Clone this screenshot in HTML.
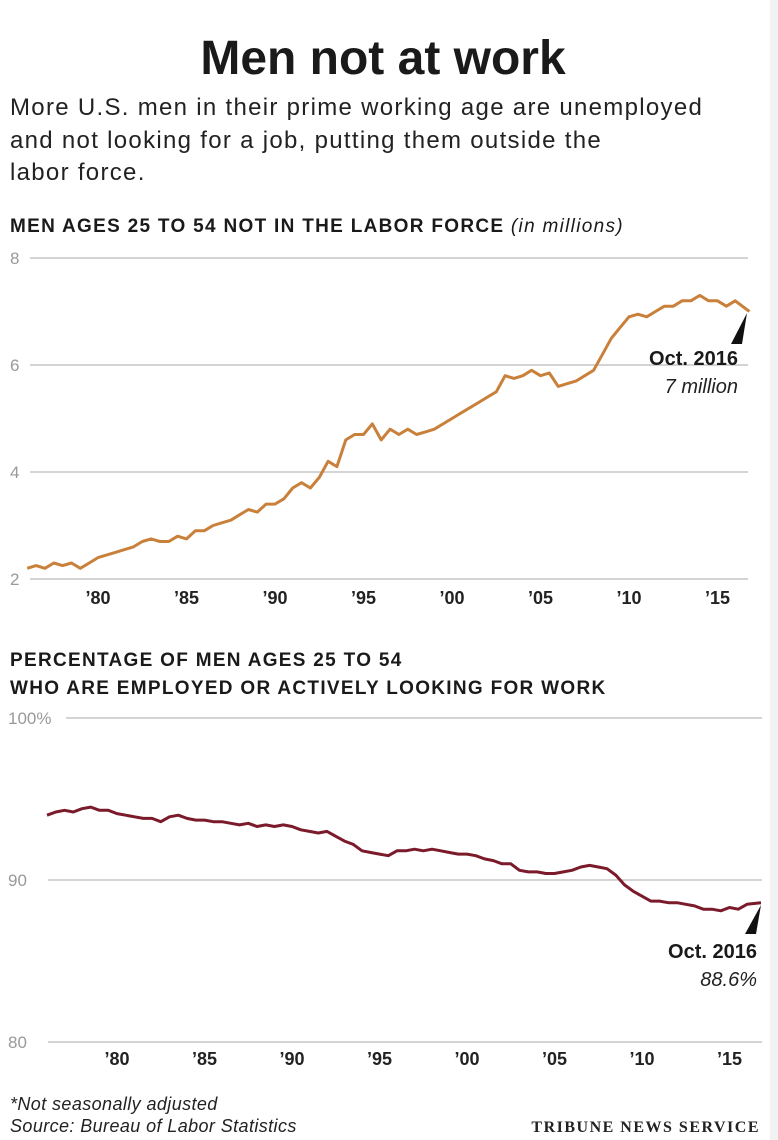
<!DOCTYPE html>
<html><head><meta charset="utf-8"><style>
body{margin:0;background:#fff;}
#root{position:relative;width:778px;height:1140px;overflow:hidden;background:#fff;font-family:"Liberation Sans",sans-serif;color:#222;}
svg{position:absolute;left:0;top:0;}
</style></head><body>
<div id="root">
<svg id="svg" width="778" height="1140">
<rect x="770" y="0" width="8" height="1140" fill="#f2f2f2"/>
<text x="383" y="74" text-anchor="middle" font-size="48" font-weight="bold" fill="#1a1a1a">Men not at work</text>
<g font-size="24" fill="#222" letter-spacing="1.3">
<text x="10" y="115">More U.S. men in their prime working age are unemployed</text>
<text x="10" y="148">and not looking for a job, putting them outside the</text>
<text x="10" y="180">labor force.</text>
</g>
<text x="10" y="232" font-size="19" font-weight="bold" letter-spacing="1.3" fill="#1a1a1a">MEN AGES 25 TO 54 NOT IN THE LABOR FORCE <tspan font-weight="normal" font-style="italic">(in millions)</tspan></text>
<text x="10" y="666" font-size="19" font-weight="bold" letter-spacing="1.3" fill="#1a1a1a">PERCENTAGE OF MEN AGES 25 TO 54</text>
<text x="10" y="694" font-size="19" font-weight="bold" letter-spacing="1.3" fill="#1a1a1a">WHO ARE EMPLOYED OR ACTIVELY LOOKING FOR WORK</text>
<g id="c1"></g><g id="c2"></g>
<text x="738" y="365" text-anchor="end" font-size="20" font-weight="bold" fill="#1a1a1a">Oct. 2016</text>
<text x="738" y="393" text-anchor="end" font-size="20" font-style="italic" fill="#222">7 million</text>
<polygon points="747,313 731,344 742,344" fill="#111"/>
<text x="757" y="958" text-anchor="end" font-size="20" font-weight="bold" fill="#1a1a1a">Oct. 2016</text>
<text x="757" y="986" text-anchor="end" font-size="20" font-style="italic" fill="#222">88.6%</text>
<polygon points="761,905 745,934 756,934" fill="#111"/>
<text x="10" y="1110" font-size="18" font-style="italic" letter-spacing="0.4" fill="#222">*Not seasonally adjusted</text>
<text x="10" y="1132" font-size="18" font-style="italic" letter-spacing="0.4" fill="#222">Source: Bureau of Labor Statistics</text>
<text x="760" y="1132" text-anchor="end" font-family="Liberation Serif,serif" font-size="16" font-weight="bold" letter-spacing="1.5" fill="#222">TRIBUNE NEWS SERVICE</text>
</svg>
</div>
<script>
const years = [];
for (let i = 0; i <= 81; i++) years.push(1976 + i * 0.5);
years[81] = 2016.8;
const notInLaborForce = [2.2,2.25,2.2,2.3,2.25,2.3,2.2,2.3,2.4,2.45,2.5,2.55,2.6,2.7,2.75,2.7,2.7,2.8,2.75,2.9,2.9,3.0,3.05,3.1,3.2,3.3,3.25,3.4,3.4,3.5,3.7,3.8,3.7,3.9,4.2,4.1,4.6,4.7,4.7,4.9,4.6,4.8,4.7,4.8,4.7,4.75,4.8,4.9,5.0,5.1,5.2,5.3,5.4,5.5,5.8,5.75,5.8,5.9,5.8,5.85,5.6,5.65,5.7,5.8,5.9,6.2,6.5,6.7,6.9,6.95,6.9,7.0,7.1,7.1,7.2,7.2,7.3,7.2,7.2,7.1,7.2,7.0];
const participation = [94.0,94.2,94.3,94.2,94.4,94.5,94.3,94.3,94.1,94.0,93.9,93.8,93.8,93.6,93.9,94.0,93.8,93.7,93.7,93.6,93.6,93.5,93.4,93.5,93.3,93.4,93.3,93.4,93.3,93.1,93.0,92.9,93.0,92.7,92.4,92.2,91.8,91.7,91.6,91.5,91.8,91.8,91.9,91.8,91.9,91.8,91.7,91.6,91.6,91.5,91.3,91.2,91.0,91.0,90.6,90.5,90.5,90.4,90.4,90.5,90.6,90.8,90.9,90.8,90.7,90.3,89.7,89.3,89.0,88.7,88.7,88.6,88.6,88.5,88.4,88.2,88.2,88.1,88.3,88.2,88.5,88.6];
const xTickYears = [1980,1985,1990,1995,2000,2005,2010,2015];
const xTickLabels = ["’80","’85","’90","’95","’00","’05","’10","’15"];
const y1Ticks = [8,6,4,2];
const y1Labels = ["8","6","4","2"];
const y2Ticks = [100,90,80];
const y2Labels = ["100%","90","80"];

const NS = "http://www.w3.org/2000/svg";
function mk(parent, tag, attrs) {
  const e = document.createElementNS(NS, tag);
  for (const k in attrs) e.setAttribute(k, attrs[k]);
  parent.appendChild(e); return e;
}
function draw(g, cfg) {
  const x = v => cfg.x0 + (v - 1980) * cfg.xs;
  const y = v => cfg.yA + (cfg.vA - v) * cfg.ys;
  cfg.yt.forEach((t, i) => {
    const gl = mk(g, "line", {x1: cfg.gx[i], x2: cfg.gx2, y1: y(t), y2: y(t), stroke: "#aaa", "stroke-width": 1});
    
    
    const tl = mk(g, "text", {x: cfg.lx, y: y(t) + 6, "font-size": 17, fill: "#999"});
    tl.textContent = cfg.yl[i];
    
    
  });
  xTickYears.forEach((t, i) => {
    const tl = mk(g, "text", {x: x(t), y: cfg.xly, "text-anchor": "middle", "font-size": 18, "font-weight": "bold", fill: "#222"});
    tl.textContent = xTickLabels[i];
    
    
  });
  const d = years.map((yr, i) => (i ? "L" : "M") + x(yr).toFixed(1) + "," + y(cfg.data[i]).toFixed(1)).join(" ");
  const p = mk(g, "path", {d: d, fill: "none", stroke: cfg.color, "stroke-width": 3, "stroke-linejoin": "round"});
  
  
}
draw(document.getElementById("c1"), {x0: 98, xs: 17.7, yA: 258, vA: 8, ys: 53.5, yt: y1Ticks, yl: y1Labels, gx: [30,30,30,30], gx2: 748, lx: 10, xly: 604, data: notInLaborForce, color: "#c9803a", name: "not-in-labor-force-line"});
draw(document.getElementById("c2"), {x0: 117, xs: 17.5, yA: 718, vA: 100, ys: 16.2, yt: y2Ticks, yl: y2Labels, gx: [66,48,48], gx2: 762, lx: 8, xly: 1065, data: participation, color: "#7b1a2a", name: "participation-rate-line"});
</script>
</body></html>
